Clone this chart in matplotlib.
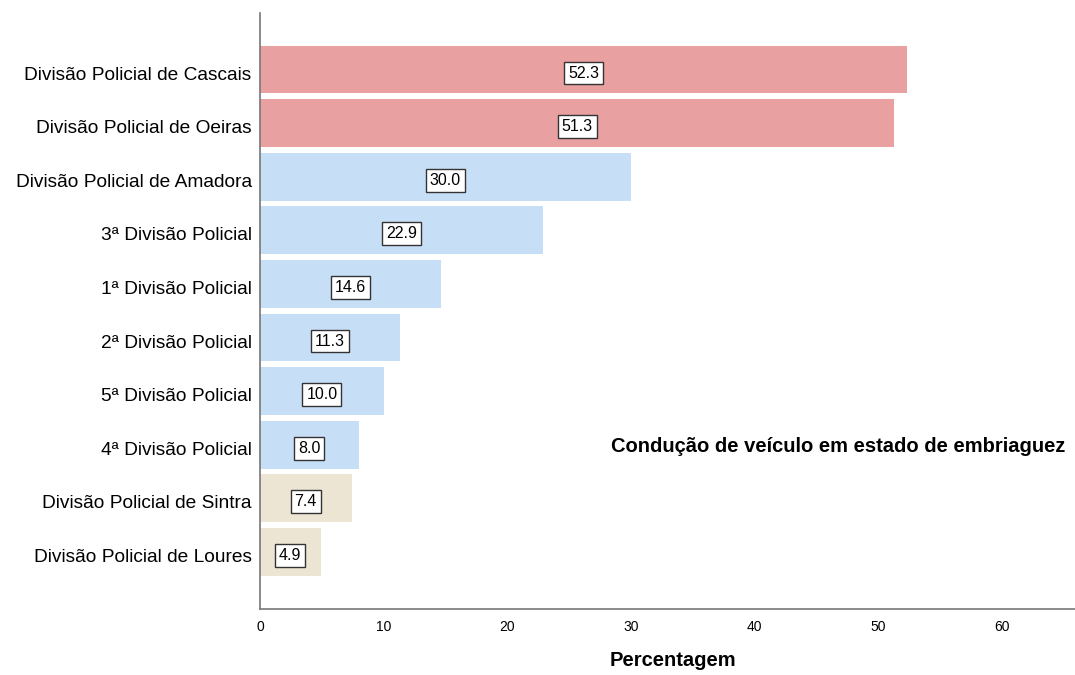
import matplotlib
matplotlib.use("Agg")
import matplotlib.pyplot as plt

plt.rcParams['font.family'] = ['Liberation Sans', 'DejaVu Sans']

categories = ["Divisão Policial de Cascais", "Divisão Policial de Oeiras",
              "Divisão Policial de Amadora", "3ª Divisão Policial",
              "1ª Divisão Policial", "2ª Divisão Policial", "5ª Divisão Policial",
              "4ª Divisão Policial", "Divisão Policial de Sintra",
              "Divisão Policial de Loures"]
values = [52.3, 51.3, 30.0, 22.9, 14.6, 11.3, 10.0, 8.0, 7.4, 4.9]
groups = ["high", "high", "mid", "mid", "mid", "mid", "mid", "mid", "low", "low"]
group_colors = {"high": "#E8A0A0", "mid": "#C6DFF6", "low": "#ECE5D3"}
xticks = [0, 10, 20, 30, 40, 50, 60]

fig = plt.figure(figsize=(10.75, 6.75), dpi=100)
ax = fig.add_axes([260/1075, 1-609/675, 1-260/1075, (609-13)/675])

ypos = list(range(len(categories)))
bar_shift = -0.065
ax.barh([y + bar_shift for y in ypos], values, height=0.89,
        color=[group_colors[g] for g in groups], edgecolor='none')
for y, v in zip(ypos, values):
    ax.text(v/2, y, f"{v:.1f}", ha='center', va='center', fontsize=11.5,
            bbox=dict(boxstyle='square,pad=0.24', facecolor='white',
                      edgecolor='#333333', linewidth=1.0))

ax.set_ylim(10.0, -1.12)
ax.set_xlim(0, 65.9)
ax.set_yticks(ypos)
ax.set_yticklabels(categories, fontsize=13.8)
ax.set_xticks(xticks)
ax.set_xticklabels([str(t) for t in xticks], fontsize=10)
ax.tick_params(length=0, pad=8)
ax.tick_params(axis='y', pad=6)
for s in ['top', 'right']:
    ax.spines[s].set_visible(False)
for s in ['left', 'bottom']:
    ax.spines[s].set_color('#777777')
    ax.spines[s].set_linewidth(1.2)

ax.set_xlabel("Percentagem", fontsize=14.5, fontweight='bold')
ax.xaxis.set_label_coords((673-260)/815, -0.07)
fig.text(1065/1075, 1-447/675, "Condução de veículo em estado de embriaguez",
         ha='right', va='center', fontsize=14.5, fontweight='bold')

fig.savefig("out.png", dpi=100)
